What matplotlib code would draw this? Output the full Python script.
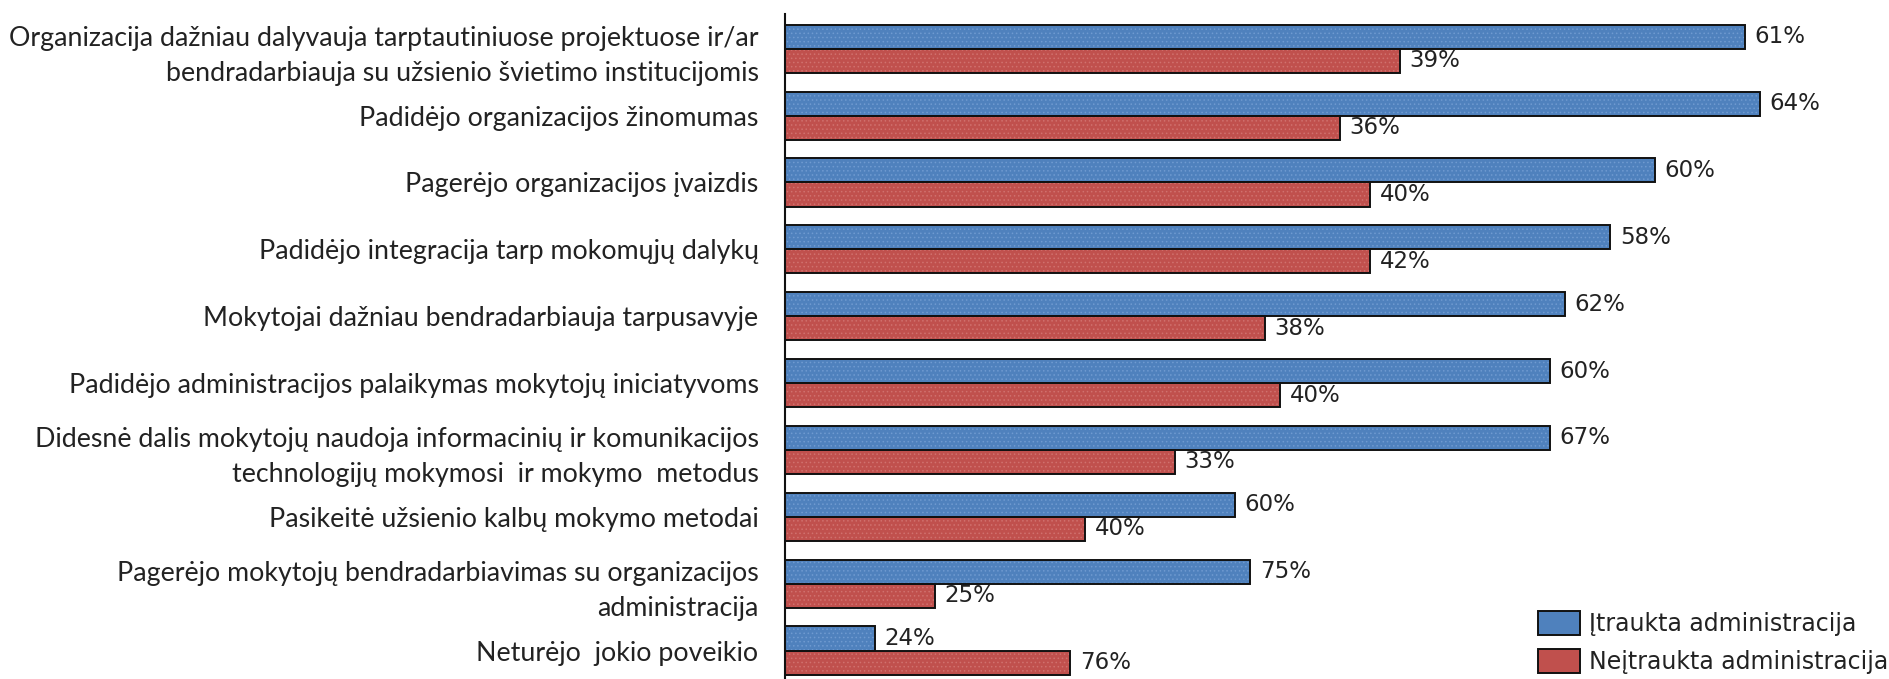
import matplotlib
matplotlib.use("Agg")
import matplotlib.pyplot as plt
from matplotlib.patches import Patch

categories = [
    "Organizacija dažniau dalyvauja tarptautiniuose projektuose ir/ar\nbendradarbiauja su užsienio švietimo institucijomis",
    "Padidėjo organizacijos žinomumas",
    "Pagerėjo organizacijos įvaizdis",
    "Padidėjo integracija tarp mokomųjų dalykų",
    "Mokytojai dažniau bendradarbiauja tarpusavyje",
    "Padidėjo administracijos palaikymas mokytojų iniciatyvoms",
    "Didesnė dalis mokytojų naudoja informacinių ir komunikacijos\ntechnologijų mokymosi  ir mokymo  metodus",
    "Pasikeitė užsienio kalbų mokymo metodai",
    "Pagerėjo mokytojų bendradarbiavimas su organizacijos\nadministracija",
    "Neturėjo  jokio poveikio",
]
included = [64, 65, 58, 55, 52, 51, 51, 30, 31, 6]
not_included = [41, 37, 39, 39, 32, 33, 26, 20, 10, 19]
included_pct = ["61%", "64%", "60%", "58%", "62%", "60%", "67%", "60%", "75%", "24%"]
not_included_pct = ["39%", "36%", "40%", "42%", "38%", "40%", "33%", "40%", "25%", "76%"]
series_names = ["Įtraukta administracija", "Neįtraukta administracija"]

blue = "#4F81BD"
red = "#C0504D"

fig = plt.figure(figsize=(18.89, 6.79), dpi=100)
ax = fig.add_axes([785 / 1889, 0.0, 1 - 785 / 1889, 1 - 14 / 679])

y = list(range(len(categories)))
h = 0.36
yb = [v - h / 2 for v in y]
yr = [v + h / 2 for v in y]

plt.rcParams['hatch.linewidth'] = 0.6
ax.barh(yb, included, height=h, color=blue, edgecolor="#6f9ad0", hatch="....", linewidth=0)
ax.barh(yr, not_included, height=h, color=red, edgecolor="#d0716e", hatch="....", linewidth=0)
ax.barh(yb, included, height=h, fill=False, edgecolor="#111111", linewidth=1.4)
ax.barh(yr, not_included, height=h, fill=False, edgecolor="#111111", linewidth=1.4)

for yy, v, t in zip(yb, included, included_pct):
    ax.annotate(t, (v, yy), xytext=(7, 0), textcoords="offset points",
                ha="left", va="center", fontsize=16.5, family="DejaVu Sans", color="#222222")
for yy, v, t in zip(yr, not_included, not_included_pct):
    ax.annotate(t, (v, yy), xytext=(7, 0), textcoords="offset points",
                ha="left", va="center", fontsize=16.5, family="DejaVu Sans", color="#222222")

ax.set_xlim(0, 73.6)
ax.set_ylim(9.426, -0.52)
ax.set_yticks(y)
ax.set_yticklabels(categories, fontsize=19.3, family="Lato", color="#222222", linespacing=1.5)
ax.tick_params(axis="y", length=0, pad=19)
ax.set_xticks([])
for s in ["top", "right", "bottom"]:
    ax.spines[s].set_visible(False)
ax.spines["left"].set_linewidth(1.5)
ax.spines["left"].set_color("#111111")

handles = [Patch(facecolor=blue, edgecolor="#111111", linewidth=1.4),
           Patch(facecolor=red, edgecolor="#111111", linewidth=1.4)]
fig.legend(handles, series_names, loc="upper left", bbox_to_anchor=(1538 / 1889, 1 - 611 / 679),
           frameon=False, prop={"family": "DejaVu Sans", "size": 17},
           handlelength=1.78, handleheight=1.19, handletextpad=0.38, labelspacing=0.55,
           borderpad=0, borderaxespad=0)
for t in fig.legends[0].get_texts():
    t.set_color("#222222")

fig.savefig("out.png", dpi=100)
